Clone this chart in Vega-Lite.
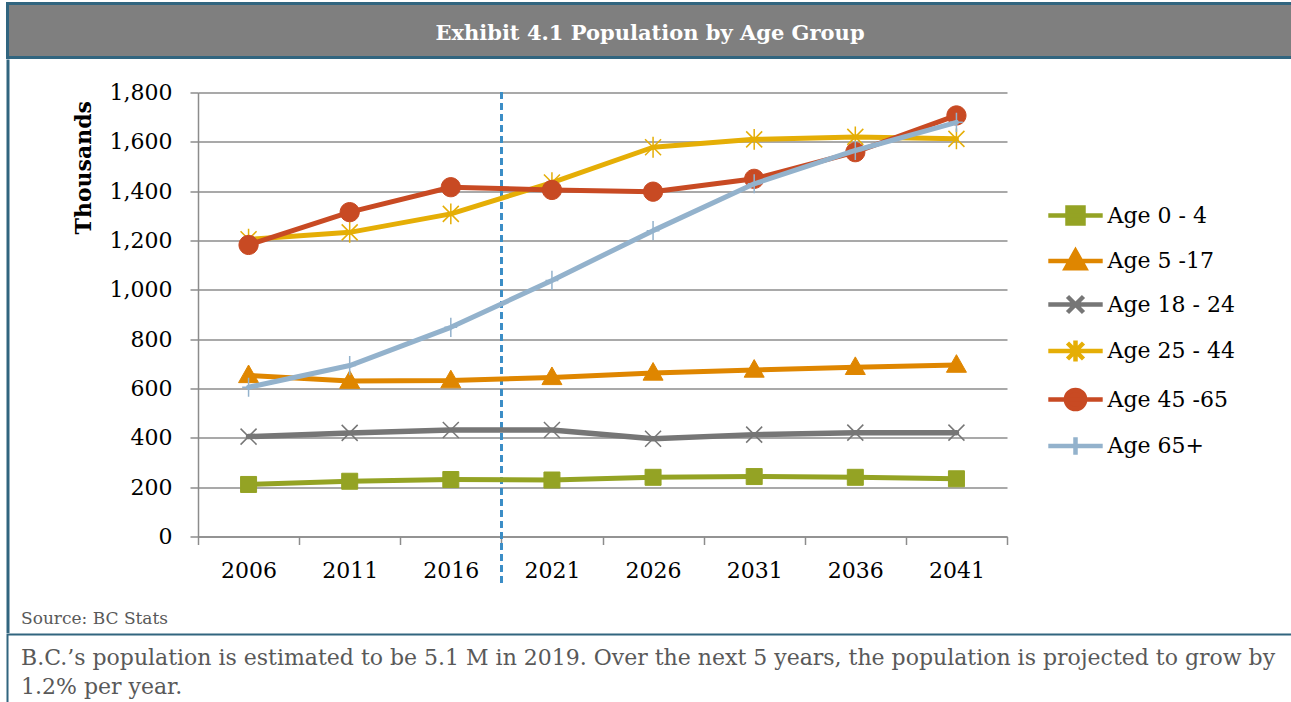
{
  "$schema": "https://vega.github.io/schema/vega-lite/v6.json",
  "padding": {"left": 5.5, "top": 1.5, "right": 0, "bottom": 0},
  "background": "white",
  "spacing": 0,
  "config": {"view": {"stroke": null}, "font": "DejaVu Serif"},
  "vconcat": [
    {
      "width": 1285,
      "height": 54,
      "view": {"fill": "#7F7F7F", "stroke": "#31657F", "strokeWidth": 3},
      "data": {"values": [{"t": "Exhibit 4.1 Population by Age Group"}]},
      "mark": {"type": "text", "font": "DejaVu Serif", "fontWeight": "bold", "fontSize": 21, "color": "white", "baseline": "middle", "dy": 3},
      "encoding": {"text": {"field": "t"}}
    },
    {
      "spacing": 11.5,
      "hconcat": [
        {
          "width": 1,
          "height": 571.5,
          "view": {"stroke": "#31657F", "strokeWidth": 2},
          "data": {"values": [{"t": ""}]},
          "mark": "text",
          "encoding": {"text": {"field": "t"}}
        },
        {
          "spacing": 0,
          "vconcat": [
            {
              "width": 1,
              "height": 20.5,
              "data": {"values": [{"t": ""}]},
              "mark": "text",
              "encoding": {"text": {"field": "t"}}
            },
            {
              "width": 809,
              "height": 444,
              "title": {"text": "Source: BC Stats", "orient": "bottom", "anchor": "start", "frame": "group", "dx": -177, "offset": 27, "fontSize": 17, "font": "DejaVu Serif", "fontWeight": "normal", "color": "#595959"},
              "data": {"values": [
                {"series": "Age 0 - 4", "year": "2006", "value": 211},
                {"series": "Age 0 - 4", "year": "2011", "value": 224},
                {"series": "Age 0 - 4", "year": "2016", "value": 231},
                {"series": "Age 0 - 4", "year": "2021", "value": 229},
                {"series": "Age 0 - 4", "year": "2026", "value": 240},
                {"series": "Age 0 - 4", "year": "2031", "value": 243},
                {"series": "Age 0 - 4", "year": "2036", "value": 240},
                {"series": "Age 0 - 4", "year": "2041", "value": 234},
                {"series": "Age 5 -17", "year": "2006", "value": 653},
                {"series": "Age 5 -17", "year": "2011", "value": 630},
                {"series": "Age 5 -17", "year": "2016", "value": 632},
                {"series": "Age 5 -17", "year": "2021", "value": 645},
                {"series": "Age 5 -17", "year": "2026", "value": 663},
                {"series": "Age 5 -17", "year": "2031", "value": 675},
                {"series": "Age 5 -17", "year": "2036", "value": 686},
                {"series": "Age 5 -17", "year": "2041", "value": 695},
                {"series": "Age 18 - 24", "year": "2006", "value": 405},
                {"series": "Age 18 - 24", "year": "2011", "value": 420},
                {"series": "Age 18 - 24", "year": "2016", "value": 432},
                {"series": "Age 18 - 24", "year": "2021", "value": 432},
                {"series": "Age 18 - 24", "year": "2026", "value": 396},
                {"series": "Age 18 - 24", "year": "2031", "value": 413},
                {"series": "Age 18 - 24", "year": "2036", "value": 421},
                {"series": "Age 18 - 24", "year": "2041", "value": 421},
                {"series": "Age 25 - 44", "year": "2006", "value": 1205},
                {"series": "Age 25 - 44", "year": "2011", "value": 1233},
                {"series": "Age 25 - 44", "year": "2016", "value": 1308},
                {"series": "Age 25 - 44", "year": "2021", "value": 1435},
                {"series": "Age 25 - 44", "year": "2026", "value": 1578},
                {"series": "Age 25 - 44", "year": "2031", "value": 1610},
                {"series": "Age 25 - 44", "year": "2036", "value": 1620},
                {"series": "Age 25 - 44", "year": "2041", "value": 1612},
                {"series": "Age 45 -65", "year": "2006", "value": 1182},
                {"series": "Age 45 -65", "year": "2011", "value": 1315},
                {"series": "Age 45 -65", "year": "2016", "value": 1416},
                {"series": "Age 45 -65", "year": "2021", "value": 1405},
                {"series": "Age 45 -65", "year": "2026", "value": 1398},
                {"series": "Age 45 -65", "year": "2031", "value": 1450},
                {"series": "Age 45 -65", "year": "2036", "value": 1558},
                {"series": "Age 45 -65", "year": "2041", "value": 1707},
                {"series": "Age 65+", "year": "2006", "value": 605},
                {"series": "Age 65+", "year": "2011", "value": 693},
                {"series": "Age 65+", "year": "2016", "value": 848},
                {"series": "Age 65+", "year": "2021", "value": 1038},
                {"series": "Age 65+", "year": "2026", "value": 1240},
                {"series": "Age 65+", "year": "2031", "value": 1430},
                {"series": "Age 65+", "year": "2036", "value": 1565},
                {"series": "Age 65+", "year": "2041", "value": 1679}
              ]},
              "encoding": {
                "x": {
                  "field": "year",
                  "type": "ordinal",
                  "scale": {"paddingInner": 0, "paddingOuter": 0},
                  "axis": {"title": null, "labelAngle": 0, "tickBand": "extent", "labelFont": "DejaVu Serif", "labelFontSize": 22, "labelColor": "black", "labelPadding": 16, "tickSize": 8, "tickColor": "#8C8C8C", "tickWidth": 1.5, "domainColor": "#8C8C8C", "domainWidth": 1.5, "grid": false}
                },
                "y": {
                  "field": "value",
                  "type": "quantitative",
                  "scale": {"domain": [0, 1800], "nice": false},
                  "axis": {"values": [0, 200, 400, 600, 800, 1000, 1200, 1400, 1600, 1800], "format": ",.0f", "title": "Thousands", "titleFont": "DejaVu Serif", "titleFontSize": 22, "titleFontWeight": "bold", "titleColor": "black", "titleAnchor": "end", "titleY": 8, "titlePadding": 14, "labelFont": "DejaVu Serif", "labelFontSize": 22, "labelColor": "black", "labelPadding": 18, "labelFlush": false, "labelOverlap": false, "tickSize": 8, "tickColor": "#8C8C8C", "tickWidth": 1.5, "domainColor": "#8C8C8C", "domainWidth": 1.5, "gridColor": "#8C8C8C", "gridWidth": 1.5}
                }
              },
              "layer": [
                {
                  "mark": {"type": "rule", "color": "#3D8CC4", "strokeWidth": 1.5, "strokeDash": [6, 5]},
                  "encoding": {
                    "x": {"datum": "2021", "type": "ordinal", "bandPosition": 0},
                    "y": {"datum": 1800, "type": "quantitative"},
                    "y2": {"datum": -190}
                  }
                },
                {
                  "transform": [{"filter": "datum.series === 'Age 0 - 4'"}],
                  "mark": {"type": "line", "strokeWidth": 5, "strokeCap": "round", "strokeJoin": "round"},
                  "encoding": {"stroke": {"field": "series", "type": "nominal", "scale": {"domain": ["Age 0 - 4", "Age 5 -17", "Age 18 - 24", "Age 25 - 44", "Age 45 -65", "Age 65+"], "range": ["#94A324", "#DF8600", "#767676", "#E5AE06", "#C84A23", "#93B2CC"]}}}
                },
                {
                  "transform": [{"filter": "datum.series === 'Age 0 - 4'"}],
                  "mark": {"type": "point", "shape": "M-1,-1H1V1H-1Z", "size": 256, "filled": true, "fill": "#94A324", "stroke": "#94A324", "strokeWidth": 1, "opacity": 1}
                },
                {
                  "transform": [{"filter": "datum.series === 'Age 5 -17'"}],
                  "mark": {"type": "line", "strokeWidth": 5, "strokeCap": "round", "strokeJoin": "round"},
                  "encoding": {"stroke": {"field": "series", "type": "nominal"}}
                },
                {
                  "transform": [{"filter": "datum.series === 'Age 5 -17'"}],
                  "mark": {"type": "point", "shape": "M0,-1.3L1.25,0.9H-1.25Z", "size": 256, "filled": true, "fill": "#DF8600", "stroke": "#DF8600", "strokeWidth": 1, "opacity": 1}
                },
                {
                  "transform": [{"filter": "datum.series === 'Age 18 - 24'"}],
                  "mark": {"type": "line", "strokeWidth": 5.5, "strokeCap": "round", "strokeJoin": "round"},
                  "encoding": {"stroke": {"field": "series", "type": "nominal"}}
                },
                {
                  "transform": [{"filter": "datum.series === 'Age 18 - 24'"}],
                  "mark": {"type": "point", "shape": "M-1,-1L1,1M1,-1L-1,1", "size": 256, "filled": true, "fill": "#767676", "stroke": "#767676", "strokeWidth": 1.5, "opacity": 1}
                },
                {
                  "transform": [{"filter": "datum.series === 'Age 25 - 44'"}],
                  "mark": {"type": "line", "strokeWidth": 5, "strokeCap": "round", "strokeJoin": "round"},
                  "encoding": {"stroke": {"field": "series", "type": "nominal"}}
                },
                {
                  "transform": [{"filter": "datum.series === 'Age 25 - 44'"}],
                  "mark": {"type": "point", "shape": "M-1,-1L1,1M1,-1L-1,1M0,-1.3V1.3", "size": 256, "filled": true, "fill": "#E5AE06", "stroke": "#E5AE06", "strokeWidth": 1.5, "opacity": 1}
                },
                {
                  "transform": [{"filter": "datum.series === 'Age 45 -65'"}],
                  "mark": {"type": "line", "strokeWidth": 5, "strokeCap": "round", "strokeJoin": "round"},
                  "encoding": {"stroke": {"field": "series", "type": "nominal"}}
                },
                {
                  "transform": [{"filter": "datum.series === 'Age 45 -65'"}],
                  "mark": {"type": "point", "shape": "M1.2,0A1.2,1.2 0 1,1 -1.2,0A1.2,1.2 0 1,1 1.2,0Z", "size": 256, "filled": true, "fill": "#C84A23", "stroke": "#C84A23", "strokeWidth": 1, "opacity": 1}
                },
                {
                  "transform": [{"filter": "datum.series === 'Age 65+'"}],
                  "mark": {"type": "line", "strokeWidth": 5, "strokeCap": "round", "strokeJoin": "round"},
                  "encoding": {"stroke": {"field": "series", "type": "nominal"}}
                },
                {
                  "transform": [{"filter": "datum.series === 'Age 65+'"}],
                  "mark": {"type": "point", "shape": "M0,-1.2V1.2M-0.8,0H0.8", "size": 256, "filled": true, "fill": "#93B2CC", "stroke": "#93B2CC", "strokeWidth": 1.5, "opacity": 1}
                },
                {
                  "transform": [{"filter": "datum.value < 0"}],
                  "mark": {"type": "point", "filled": true, "size": 256, "opacity": 1},
                  "encoding": {
                    "fill": {
                      "field": "series",
                      "type": "nominal",
                      "scale": {"domain": ["Age 0 - 4", "Age 5 -17", "Age 18 - 24", "Age 25 - 44", "Age 45 -65", "Age 65+"], "range": ["#94A324", "#DF8600", "#767676", "#E5AE06", "#C84A23", "#93B2CC"]},
                      "legend": {"orient": "none", "legendX": 1030, "legendY": 201, "title": null, "labelFont": "DejaVu Serif", "labelFontSize": 22, "labelColor": "black", "symbolSize": 256, "symbolOffset": 27, "labelOffset": 21, "rowPadding": 9.5, "padding": 0, "symbolStrokeWidth": 4.5, "symbolOpacity": 1}
                    },
                    "stroke": {
                      "field": "series",
                      "type": "nominal",
                      "legend": {"orient": "none", "legendX": 1030, "legendY": 201, "title": null, "labelFont": "DejaVu Serif", "labelFontSize": 22, "labelColor": "black", "symbolSize": 256, "symbolOffset": 27, "labelOffset": 21, "rowPadding": 9.5, "padding": 0, "symbolStrokeWidth": 4.5, "symbolOpacity": 1}
                    },
                    "shape": {
                      "field": "series",
                      "type": "nominal",
                      "scale": {
                        "domain": ["Age 0 - 4", "Age 5 -17", "Age 18 - 24", "Age 25 - 44", "Age 45 -65", "Age 65+"],
                        "range": ["M-3.4,0H3.4M-1,-1H1V1H-1Z", "M-3.4,0H3.4M0,-1.25L1.2,0.9H-1.2Z", "M-3.4,0H3.4M-1,-1L1,1M1,-1L-1,1", "M-3.4,0H3.4M-1,-1L1,1M1,-1L-1,1M0,-1.3V1.3", "M-3.4,0H3.4M1.2,0A1.2,1.2 0 1,1 -1.2,0A1.2,1.2 0 1,1 1.2,0Z", "M-3.4,0H3.4M0,-1.1V1.1"]
                      },
                      "legend": {"orient": "none", "legendX": 1030, "legendY": 201, "title": null, "labelFont": "DejaVu Serif", "labelFontSize": 22, "labelColor": "black", "symbolSize": 256, "symbolOffset": 27, "labelOffset": 21, "rowPadding": 9.5, "padding": 0, "symbolStrokeWidth": 4.5, "symbolOpacity": 1}
                    }
                  }
                }
              ]
            }
          ]
        }
      ]
    },
    {
      "width": 1300,
      "height": 90,
      "view": {"stroke": "#31657F", "strokeWidth": 2},
      "title": {"text": ["B.C.’s population is estimated to be 5.1 M in 2019. Over the next 5 years, the population is projected to grow by", "1.2% per year."], "orient": "top", "anchor": "start", "frame": "group", "offset": -64, "dx": 13.5, "fontSize": 22, "font": "DejaVu Serif", "fontWeight": "normal", "color": "#595959", "lineHeight": 29},
      "data": {"values": [{"t": ""}]},
      "mark": "text",
      "encoding": {"text": {"field": "t"}}
    }
  ]
}
